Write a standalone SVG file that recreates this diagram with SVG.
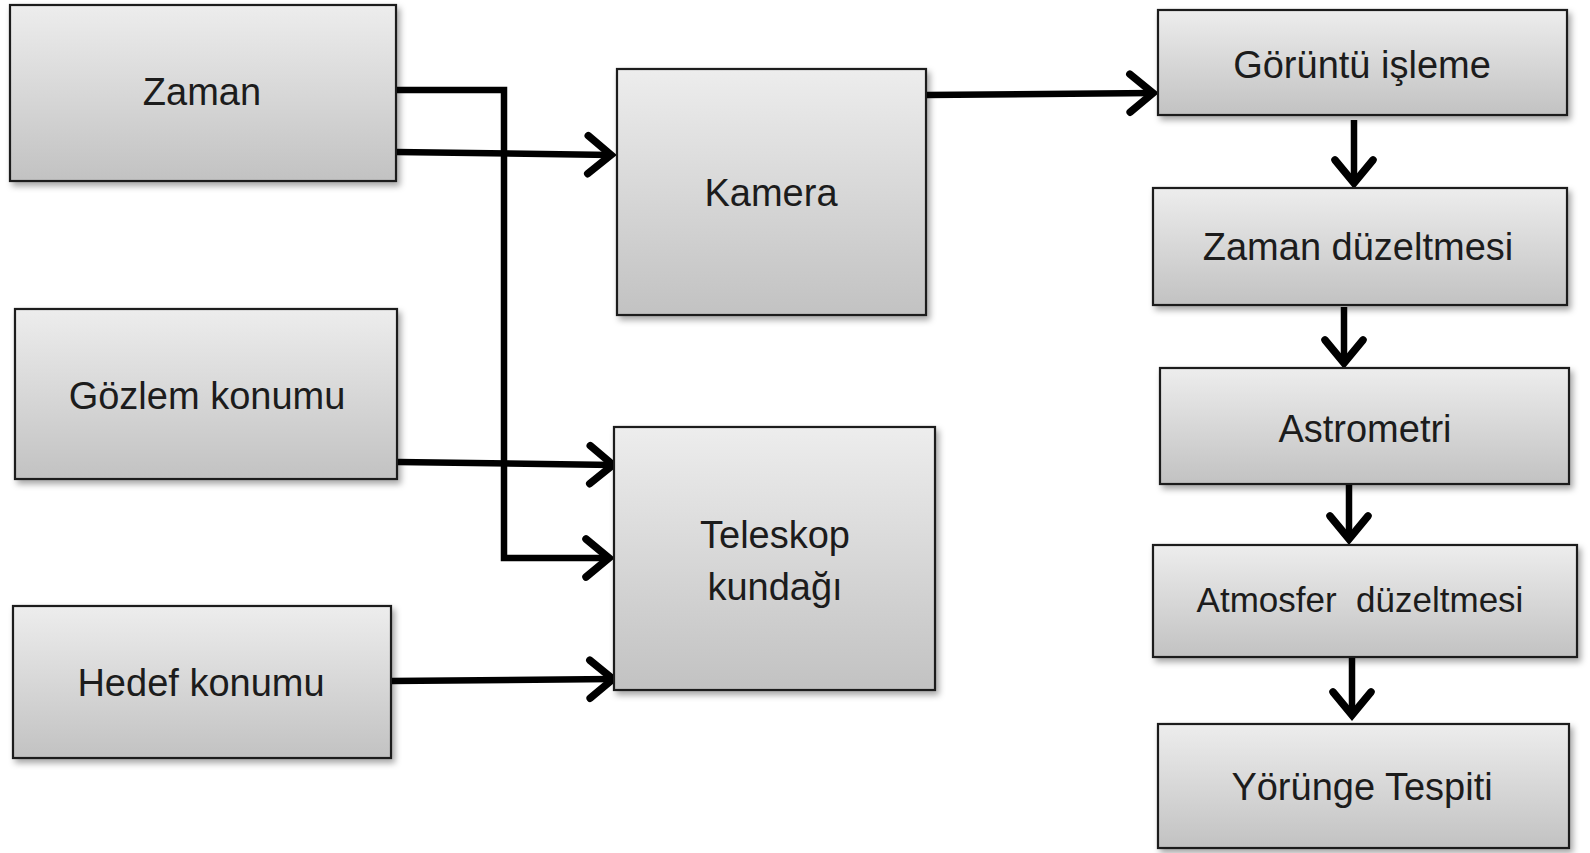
<svg xmlns="http://www.w3.org/2000/svg" width="1590" height="853" viewBox="0 0 1590 853">
<defs>
<linearGradient id="g" x1="0" y1="0" x2="0" y2="1">
<stop offset="0" stop-color="#ededed"/>
<stop offset="1" stop-color="#c2c2c2"/>
</linearGradient>
<filter id="sh" x="-5%" y="-5%" width="115%" height="120%">
<feDropShadow dx="3" dy="4" stdDeviation="3" flood-color="#000" flood-opacity="0.35"/>
</filter>
<marker id="arr" markerUnits="userSpaceOnUse" viewBox="-30 -25 34 50" refX="0" refY="0" markerWidth="34" markerHeight="50" orient="auto" overflow="visible">
<path d="M-24,-19 L-1,0 L-24,19" fill="none" stroke="#000" stroke-width="7.5" stroke-linecap="round" stroke-linejoin="miter"/>
</marker>
</defs>
<style>
.box{fill:url(#g);stroke:#1e1e1e;stroke-width:2.2;filter:url(#sh)}
.t{font-family:"Liberation Sans",Arial,sans-serif;font-size:38px;fill:#1c1c1c;text-anchor:middle}
.c{fill:none;stroke:#000;stroke-width:6.5;stroke-linejoin:miter}
</style>
<rect width="1590" height="853" fill="#fff"/>
<g id="connectors">
<path class="c" d="M396,90 H504 V558 H610" marker-end="url(#arr)"/>
<path class="c" d="M396,152 L612,155" marker-end="url(#arr)"/>
<path class="c" d="M398,462 L614,465" marker-end="url(#arr)"/>
<path class="c" d="M391,681 L614,679" marker-end="url(#arr)"/>
<path class="c" d="M926,95 L1154,93" marker-end="url(#arr)"/>
<path class="c" d="M1354,120 V184" marker-end="url(#arr)"/>
<path class="c" d="M1344,307 V364" marker-end="url(#arr)"/>
<path class="c" d="M1349,485 V540" marker-end="url(#arr)"/>
<path class="c" d="M1352,651 V716" marker-end="url(#arr)"/>
</g>
<g id="zaman"><rect class="box" x="10" y="5" width="386" height="176"/><text class="t" x="202" y="105">Zaman</text></g>
<g id="gozlem"><rect class="box" x="15" y="309" width="382" height="170"/><text class="t" x="207" y="409">Gözlem konumu</text></g>
<g id="hedef"><rect class="box" x="13" y="606" width="378" height="152"/><text class="t" x="201" y="696">Hedef konumu</text></g>
<g id="kamera"><rect class="box" x="617" y="69" width="309" height="246"/><text class="t" x="771" y="206">Kamera</text></g>
<g id="teleskop"><rect class="box" x="614" y="427" width="321" height="263"/><text class="t" x="775" y="548">Teleskop</text><text class="t" x="775" y="600">kundağı</text></g>
<g id="goruntu"><rect class="box" x="1158" y="10" width="409" height="105"/><text class="t" x="1362" y="78">Görüntü işleme</text></g>
<g id="zamanduz"><rect class="box" x="1153" y="188" width="414" height="117"/><text class="t" x="1358" y="260">Zaman düzeltmesi</text></g>
<g id="astrometri"><rect class="box" x="1160" y="368" width="409" height="116"/><text class="t" x="1365" y="442">Astrometri</text></g>
<g id="atmosfer"><rect class="box" x="1153" y="545" width="424" height="112"/><text class="t" x="1360" y="612" style="font-size:35px" xml:space="preserve">Atmosfer  düzeltmesi</text></g>
<g id="yorunge"><rect class="box" x="1158" y="724" width="411" height="124"/><text class="t" x="1362" y="800">Yörünge Tespiti</text></g>
</svg>
